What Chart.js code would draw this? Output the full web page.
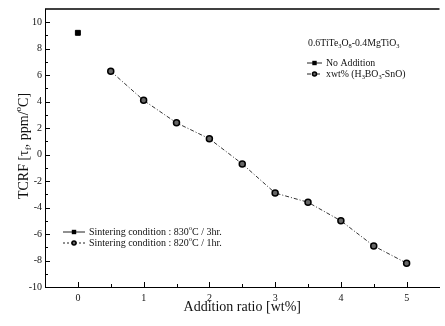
<!DOCTYPE html>
<html>
<head>
<meta charset="utf-8">
<script src="https://cdn.jsdelivr.net/npm/chart.js@4/dist/chart.umd.min.js"></script>
<style>
html, body { margin: 0; padding: 0; background: #fff; }
</style>
</head>
<body>
<canvas id="tcrfChart" width="445" height="326"></canvas>
<script>
// values
const additionRatio = [0.5, 1, 1.5, 2, 2.5, 3, 3.5, 4, 4.5, 5];
const tcrfValues = [6.3, 4.1, 2.4, 1.2, -0.7, -2.9, -3.6, -5.0, -6.9, -8.2];
const noAdditionRatio = [0];
const noAdditionTcrf = [9.2];
const xTicks = [0, 1, 2, 3, 4, 5];
const yTicks = [-10, -8, -6, -4, -2, 0, 2, 4, 6, 8, 10];

const serif = 'Liberation Serif';
const ink = '#111';

// draw text made of normal / sub / sup pieces
function richText(ctx, parts, x, y, size) {
    let cx = x;
    ctx.textBaseline = 'middle';
    ctx.textAlign = 'left';
    parts.forEach(([txt, kind]) => {
        let s = size, dy = 0;
        if (kind === 'sub') { s = size * 0.65; dy = size * 0.3; }
        if (kind === 'sup') { s = size * 0.65; dy = -size * 0.35; }
        ctx.font = s + 'px "' + serif + '"';
        ctx.fillText(txt, cx, y + dy);
        cx += ctx.measureText(txt).width;
    });
    return cx - x;
}

function squareMark(ctx, x, y, r) {
    ctx.fillStyle = '#000';
    ctx.fillRect(x - r, y - r, 2 * r, 2 * r);
}
function circleMark(ctx, x, y, r) {
    ctx.beginPath();
    ctx.arc(x, y, r, 0, Math.PI * 2);
    ctx.fillStyle = '#666';
    ctx.fill();
    ctx.lineWidth = 1.5;
    ctx.strokeStyle = '#000';
    ctx.stroke();
}
function legendRow(ctx, x, y, len, dash, mark, parts, size) {
    ctx.save();
    ctx.strokeStyle = '#222';
    ctx.lineWidth = 1;
    ctx.setLineDash(dash);
    ctx.beginPath();
    ctx.moveTo(x, y);
    ctx.lineTo(x + len, y);
    ctx.stroke();
    ctx.setLineDash([]);
    mark(ctx, x + len / 2, y, mark === squareMark ? 2.2 : 2);
    ctx.fillStyle = ink;
    richText(ctx, parts, x + len + 4, y, size);
    ctx.restore();
}

const decorPlugin = {
    id: 'decor',
    afterDraw(chart) {
        const ctx = chart.ctx;
        const area = chart.chartArea;
        const xs = chart.scales.x, ys = chart.scales.y;
        ctx.save();
        // top frame line
        ctx.strokeStyle = '#000';
        ctx.lineWidth = 1.5;
        ctx.beginPath();
        ctx.moveTo(area.left, area.top);
        ctx.lineTo(area.right, area.top);
        ctx.stroke();

        // inward tick marks
        ctx.lineWidth = 1;
        for (let v = 0; v <= 5; v += 0.5) {
            const px = Math.round(xs.getPixelForValue(v)) + 0.5;
            const len = Number.isInteger(v) ? 5 : 3;
            ctx.beginPath();
            ctx.moveTo(px, area.bottom);
            ctx.lineTo(px, area.bottom - len);
            ctx.stroke();
        }
        for (let v = -10; v <= 10; v += 1) {
            const py = Math.round(ys.getPixelForValue(v)) + 0.5;
            const len = v % 2 === 0 ? 5 : 3;
            ctx.beginPath();
            ctx.moveTo(area.left, py);
            ctx.lineTo(area.left + len, py);
            ctx.stroke();
        }

        // y axis title with subscript / superscript
        ctx.fillStyle = ink;
        ctx.translate(24, 146);
        ctx.rotate(-Math.PI / 2);
        const yTitle = [['TCRF [τ', 'n'], ['f', 'sub'], [', ppm/', 'n'], ['o', 'sup'], ['C]', 'n']];
        let w = 0;
        yTitle.forEach(([t, k]) => {
            ctx.font = (k === 'n' ? 14 : 14 * 0.65) + 'px "' + serif + '"';
            w += ctx.measureText(t).width;
        });
        richText(ctx, yTitle, -w / 2, 0, 14);
        ctx.restore();

        // upper right legend
        ctx.save();
        ctx.fillStyle = ink;
        richText(ctx, [['0.6TiTe', 'n'], ['3', 'sub'], ['O', 'n'], ['8', 'sub'], ['-0.4MgTiO', 'n'], ['3', 'sub']], 308, 43, 9.8);
        legendRow(ctx, 307, 63, 15, [], squareMark, [['No Addition', 'n']], 9.8);
        legendRow(ctx, 307, 74, 15, [4, 2, 1, 2], circleMark,
            [['xwt% (H', 'n'], ['3', 'sub'], ['BO', 'n'], ['3', 'sub'], ['-SnO)', 'n']], 9.8);

        // lower left legend
        legendRow(ctx, 63, 232, 22, [], squareMark, [['Sintering condition : 830', 'n'], ['o', 'sup'], ['C / 3hr.', 'n']], 10);
        legendRow(ctx, 63, 243, 22, [2, 2], circleMark, [['Sintering condition : 820', 'n'], ['o', 'sup'], ['C / 1hr.', 'n']], 10);
        ctx.restore();
    }
};

const ctx = document.getElementById('tcrfChart').getContext('2d');
const tcrfChart = new Chart(ctx, {
    type: 'scatter',
    data: {
        datasets: [
            {
                label: 'No Addition',
                data: noAdditionRatio.map((x, i) => ({ x: x, y: noAdditionTcrf[i] })),
                pointStyle: 'rect',
                pointRadius: 3.5,
                backgroundColor: '#000',
                borderColor: '#000',
                showLine: false
            },
            {
                label: 'xwt% (H3BO3-SnO)',
                data: additionRatio.map((x, i) => ({ x: x, y: tcrfValues[i] })),
                showLine: true,
                borderColor: '#333',
                borderWidth: 1,
                borderDash: [4, 2, 1, 2],
                pointStyle: 'circle',
                pointRadius: 3,
                pointBackgroundColor: '#666',
                pointBorderColor: '#000',
                pointBorderWidth: 1.5
            }
        ]
    },
    options: {
        responsive: false,
        animation: false,
        devicePixelRatio: 1,
        layout: { padding: { top: 9, right: 0, left: 0, bottom: 0 } },
        plugins: {
            legend: { display: false },
            tooltip: { enabled: false }
        },
        scales: {
            x: {
                type: 'linear',
                min: -0.5,
                max: 5.5,
                afterBuildTicks: s => { s.ticks = xTicks.map(v => ({ value: v })); },
                afterFit: s => { s.height = 39; },
                grid: { display: false, drawTicks: false },
                border: { display: true, color: '#000', width: 1 },
                ticks: { padding: 5, color: ink, font: { family: serif, size: 10 } },
                title: {
                    display: true,
                    text: 'Addition ratio [wt%]',
                    color: ink,
                    font: { family: serif, size: 14 },
                    padding: { top: 0, bottom: 10 }
                }
            },
            y: {
                type: 'linear',
                min: -10,
                max: 11,
                afterBuildTicks: s => { s.ticks = yTicks.map(v => ({ value: v })); },
                afterFit: s => { s.width = 45; },
                grid: { display: false, drawTicks: false },
                border: { display: true, color: '#000', width: 1 },
                ticks: { padding: 3, color: ink, font: { family: serif, size: 10 } }
            }
        }
    },
    plugins: [decorPlugin]
});
</script>
</body>
</html>
